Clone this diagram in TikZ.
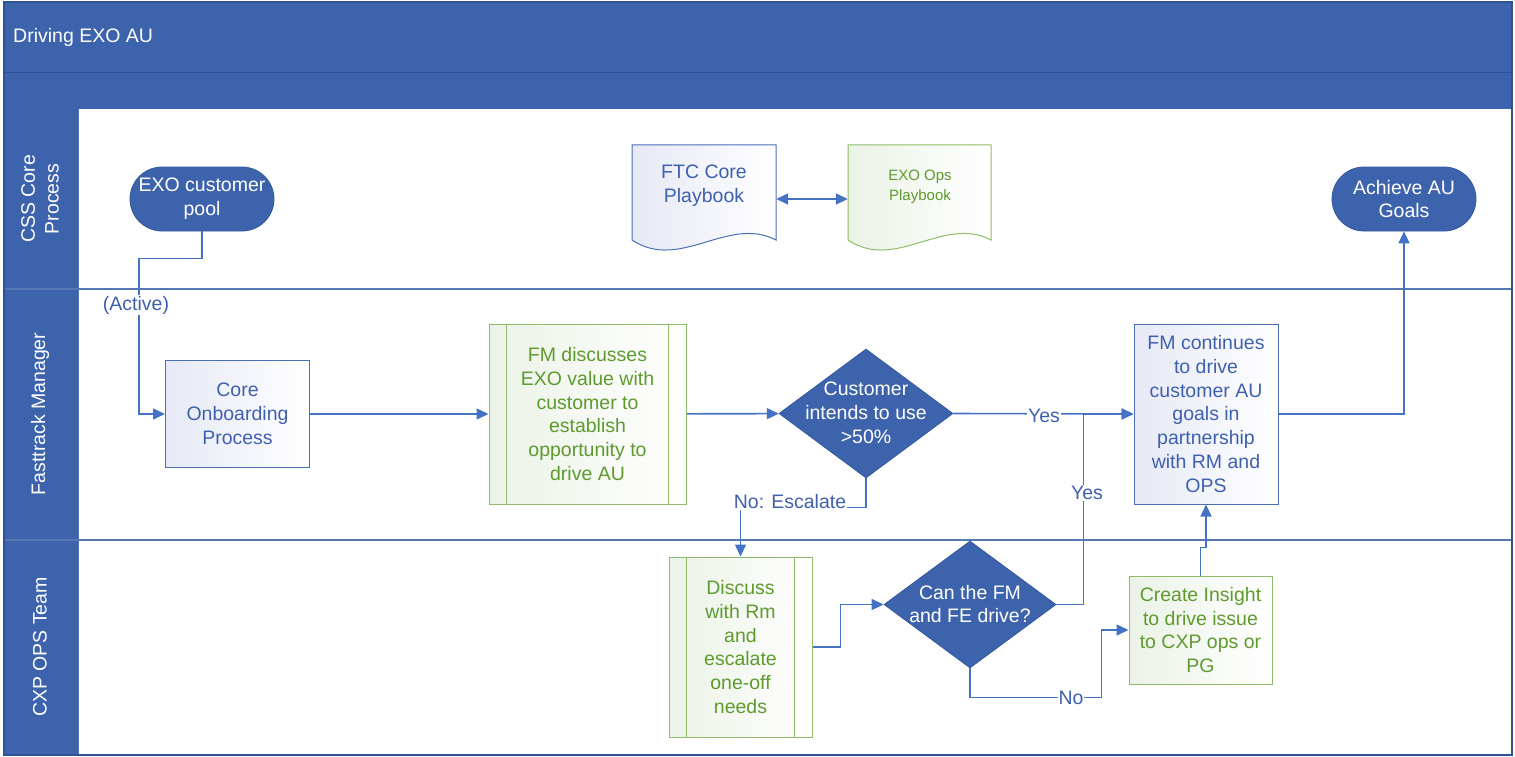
\documentclass[tikz,border=0pt]{standalone}
\usepackage{fontspec}
\setmainfont{Liberation Sans}
\usetikzlibrary{arrows.meta,shapes.geometric,calc}
\definecolor{hdr}{HTML}{3E63AD}
\definecolor{hdrline}{HTML}{2F5293}
\definecolor{laneline}{HTML}{5676B4}
\definecolor{termline}{HTML}{35599F}
\definecolor{txtblue}{HTML}{3F60AE}
\definecolor{bborder}{HTML}{4A6FB8}
\definecolor{conn}{HTML}{4472C4}
\definecolor{gtext}{HTML}{5E9A2E}
\definecolor{gborder}{HTML}{8EBC6A}
\definecolor{lav}{HTML}{E6E9F5}
\definecolor{lgreen}{HTML}{EBF2E6}
\begin{document}
\begin{tikzpicture}[x=1pt,y=-1pt]
\tikzset{
  base/.style={font=\fontsize{19.5}{23.8}\selectfont, align=center, inner sep=0pt},
  term/.style={base, fill=hdr, draw=termline, line width=0.8pt, text=white, rounded corners=32pt, minimum width=144, minimum height=64},
  bluebox/.style={base, draw=bborder, line width=1pt, text=txtblue, left color=lav, right color=white},
  greenbox/.style={base, draw=gborder, line width=1pt, text=gtext, left color=lgreen, right color=white},
  dia/.style={base, diamond, fill=hdr, draw=termline, line width=0.8pt, minimum width=174, minimum height=129},
  diatext/.style={base, text=white},
  conn/.style={draw=conn, line width=1.6pt},
  arr/.style={conn, -{Triangle[length=12pt,width=11pt]}},
  lbl/.style={base, fill=white, text=txtblue, inner sep=1pt},
  lanetext/.style={base, text=white, rotate=90},
}
\useasboundingbox (0,0) rectangle (1515,757);
% background and lanes
\fill[white] (0,0) rectangle (1515,757);
\fill[hdr] (4,2) rectangle (1512,109);
\fill[hdr] (4,109) rectangle (78,755);
\draw[hdrline, line width=1pt] (4,73) -- (1512,73);
\draw[laneline, line width=1.3pt] (4,289) -- (1512,289);
\draw[laneline, line width=1.3pt] (4,540) -- (1512,540);
\draw[laneline, line width=1pt] (78,109) -- (78,755);
\draw[hdrline, line width=1.2pt] (4,2) rectangle (1512,755);
\node[base, anchor=west, text=white] (title) at (13,37) {Driving EXO AU};
\node[lanetext] (lane1) at (40,199) {CSS Core\\Process};
\node[lanetext] (lane2) at (40,414) {Fasttrack Manager};
\node[lanetext] (lane3) at (40,647) {CXP OPS Team};

% documents
\node[base, minimum width=144, minimum height=108] (ftc) at (704,199) {};
\path[draw=bborder, line width=1pt, left color=lav, right color=white]
  (632,145) -- (776,145) -- (776,240) .. controls (728,215) and (680,272) .. (632,240) -- cycle;
\node[base, text=txtblue] (ftct) at (704,186) {FTC Core\\Playbook};
\node[base, minimum width=143, minimum height=108] (exo) at (919.5,199) {};
\path[draw=gborder, line width=1pt, left color=lgreen, right color=white]
  (848,145) -- (991,145) -- (991,240) .. controls (943,215) and (896,272) .. (848,240) -- cycle;
\node[base, text=gtext, font=\fontsize{15}{20}\selectfont] (exot) at (920,187) {EXO Ops\\Playbook};

% nodes
\node[term] (pool) at (202,199) {EXO customer\\pool};
\node[term] (goal) at (1404,199) {Achieve AU\\Goals};
\node[bluebox, minimum width=144, minimum height=107] (core) at (237.5,414) {Core\\Onboarding\\Process};
\node[greenbox, minimum width=197, minimum height=180] (fmd) at (587.5,414) {FM discusses\\EXO value with\\customer to\\establish\\opportunity to\\drive AU};
\node[dia] (d1) at (866,413.5) {};
\node[diatext] (d1t) at (866,413) {Customer\\intends to use\\>50\%};
\node[bluebox, minimum width=144, minimum height=180] (fmc) at (1206,414) {FM continues\\to drive\\customer AU\\goals in\\partnership\\with RM and\\OPS};
\node[greenbox, minimum width=143, minimum height=180] (disc) at (740.5,647) {Discuss\\with Rm\\and\\escalate\\one-off\\needs};
\node[dia, minimum width=172, minimum height=127] (d2) at (970,604.5) {};
\node[diatext] (d2t) at (970,604) {Can the FM\\and FE drive?};
\node[greenbox, minimum width=143, minimum height=108] (ins) at (1200.5,630) {Create Insight\\to drive issue\\to CXP ops or\\PG};
\foreach \n in {fmd,disc} {
  \draw[gborder, line width=1pt] ([xshift=18pt]\n.north west) -- ([xshift=18pt]\n.south west);
  \draw[gborder, line width=1pt] ([xshift=-18pt]\n.north east) -- ([xshift=-18pt]\n.south east);
}

% connectors
\draw[conn, {Triangle[length=12pt,width=11pt]}-{Triangle[length=12pt,width=11pt]}] (ftc.east) -- (exo.west);
\draw[arr] (pool.south) -- ++(0,27) -- ++(-63,0) |- (core.west);
\draw[arr] (core) -- (fmd);
\draw[arr] (fmd) -- (d1);
\draw[arr] (d1.east) -- (fmc.west);
\draw[arr] (d1.south) -- ++(0,29) -| (disc.north);
\draw[arr] (disc.east) -- ++(28,0) |- (d2.west);
\draw[arr] (d2.east) -| ($(fmc.west)+(-50,0)$) -- (fmc.west);
\draw[arr] (d2.south) -- ++(0,29) -| ($(ins.west)+(-27,0)$) -- (ins.west);
\draw[arr] (ins.north) -- ++(0,-28) -| (fmc.south);
\draw[arr] (fmc.east) -| (goal.south);

% labels
\node[lbl] (active) at (136,305) {(Active)};
\node[lbl] (yes1) at (1044,416) {Yes};
\node[lbl] (esc) at (790,502) {No: Escalate};
\node[lbl] (yes2) at (1087,493) {Yes};
\node[lbl] (no2) at (1071,698) {No};
\end{tikzpicture}
\end{document}
